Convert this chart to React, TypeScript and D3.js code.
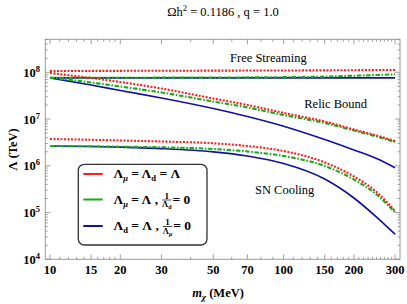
import { useEffect, useRef } from "react";
import * as d3 from "d3";

const WIDTH = 407;
const HEIGHT = 304;
const MARGIN = { top: 39.3, right: 7, bottom: 44.7, left: 45.3 };
const FONT = '"Liberation Serif", "DejaVu Serif", serif';

const RED = "#ff1c1c";
const GREEN = "#1aab1a";
const BLUE = "#12129e";

// dark matter mass (MeV)
const masses = [10, 15, 20, 30, 50, 70, 100, 150, 200, 250, 300];

// free streaming
const fsRed = [1.07e8, 1.07e8, 1.075e8, 1.08e8, 1.085e8, 1.09e8, 1.095e8, 1.1e8, 1.11e8, 1.115e8, 1.12e8];
const fsGreen = [7.62e7, 7.63e7, 7.65e7, 7.68e7, 7.72e7, 7.78e7, 7.87e7, 8.1e7, 8.45e7, 8.75e7, 9.05e7];
const fsBlue = [7.6e7, 7.6e7, 7.6e7, 7.6e7, 7.6e7, 7.6e7, 7.6e7, 7.6e7, 7.6e7, 7.6e7, 7.6e7];

// relic bound
const relicRed = [9.66e7, 7.55e7, 6.2e7, 4.5e7, 2.75e7, 2.0e7, 1.35e7, 8.87e6, 5.98e6, 4.45e6, 3.39e6];
const relicGreen = [7.7e7, 6.05e7, 4.97e7, 3.7e7, 2.37e7, 1.77e7, 1.22e7, 8.23e6, 5.69e6, 4.24e6, 3.23e6];
const relicBlue = [7.6e7, 5.35e7, 4.08e7, 2.82e7, 1.68e7, 1.135e7, 7.03e6, 3.65e6, 2.18e6, 1.43e6, 9.1e5];

// SN cooling
const snRed = [3.74e6, 3.6e6, 3.48e6, 3.31e6, 3.03e6, 2.65e6, 2.07e6, 1.18e6, 5.9e5, 2.75e5, 1.08e5];
const snGreen = [2.65e6, 2.61e6, 2.56e6, 2.49e6, 2.29e6, 2.02e6, 1.62e6, 9.9e5, 5.09e5, 2.43e5, 1.01e5];
const snBlue = [2.65e6, 2.59e6, 2.52e6, 2.34e6, 1.99e6, 1.62e6, 1.12e6, 5.22e5, 2.05e5, 8.0e4, 3.43e4];

const xTickLabels = [10, 15, 20, 30, 50, 70, 100, 150, 200, 300];
const yTickExponents = [4, 5, 6, 7, 8];

// label anchors in data coordinates (mass, Λ)
const annotations = [
  { text: "Free Streaming", m: 59, v: 1.69e8 },
  { text: "Relic Bound", m: 122.6, v: 1.75e7 },
  { text: "SN Cooling", m: 75.4, v: 2.55e5 },
];

type Seg = { t: string; sub?: boolean; italic?: boolean };
const legendItems: { color: string; head: Seg[]; frac?: Seg[] }[] = [
  { color: RED, head: [{ t: "Λ" }, { t: "μ", sub: true, italic: true }, { t: " = Λ" }, { t: "d", sub: true }, { t: " = Λ" }] },
  { color: GREEN, head: [{ t: "Λ" }, { t: "μ", sub: true, italic: true }, { t: " = Λ ," }], frac: [{ t: "Λ" }, { t: "d", sub: true }] },
  { color: BLUE, head: [{ t: "Λ" }, { t: "d", sub: true }, { t: " = Λ ," }], frac: [{ t: "Λ" }, { t: "μ", sub: true, italic: true }] },
];

function writeSegs(text: any, segs: Seg[], subSize: number, shift: number) {
  let prev = 0;
  for (const s of segs) {
    const off = s.sub ? shift : 0;
    const ts = text.append("tspan").attr("dy", off - prev).text(s.t);
    if (s.sub) ts.attr("font-size", subSize);
    if (s.italic) ts.attr("font-style", "italic");
    prev = off;
  }
}

export default function App() {
  const svgRef = useRef<SVGSVGElement>(null);

  useEffect(() => {
    document.body.style.margin = "0";
    if (!svgRef.current) return;
    const svg = d3.select(svgRef.current);
    svg.selectAll("*").remove();
    svg.style("font-family", FONT);

    const x0 = MARGIN.left;
    const x1 = WIDTH - MARGIN.right;
    const y0 = HEIGHT - MARGIN.bottom;
    const y1 = MARGIN.top;

    const x = d3.scaleLog().domain([9.55, 315]).range([x0, x1]);
    const y = d3.scaleLog().domain([1e4, 5.08e8]).range([y0, y1]);

    svg.append("rect").attr("width", WIDTH).attr("height", HEIGHT).attr("fill", "white");

    // title
    const title = svg.append("text")
      .attr("x", 223).attr("y", 15.5)
      .attr("text-anchor", "middle")
      .attr("font-size", 12.5);
    title.append("tspan").text("Ωh");
    title.append("tspan").attr("dy", -5).attr("font-size", 8.5).text("2");
    title.append("tspan").attr("dy", 5).text(" = 0.1186 , q = 1.0");

    // frame
    svg.append("rect")
      .attr("x", x0).attr("y", y1).attr("width", x1 - x0).attr("height", y0 - y1)
      .attr("fill", "none").attr("stroke", "#9a9a9a").attr("stroke-width", 1);

    // x ticks
    const xMinor = [...d3.range(11, 20), ...d3.range(40, 100, 10), ...d3.range(110, 300, 10)]
      .filter((m) => !xTickLabels.includes(m));
    const tickG = svg.append("g").attr("stroke", "#888").attr("stroke-width", 0.8);
    const vTick = (px: number, len: number) => {
      tickG.append("line").attr("x1", px).attr("x2", px).attr("y1", y0).attr("y2", y0 - len);
      tickG.append("line").attr("x1", px).attr("x2", px).attr("y1", y1).attr("y2", y1 + len);
    };
    xMinor.forEach((m) => vTick(x(m), 2.5));
    xTickLabels.forEach((m) => vTick(x(m), 5));

    svg.append("g").selectAll("text").data(xTickLabels).join("text")
      .attr("x", (d) => x(d)).attr("y", 274)
      .attr("text-anchor", "middle")
      .attr("font-size", 12.5).attr("font-weight", "bold")
      .text((d) => String(d));

    // y ticks
    const hTick = (py: number, len: number) => {
      tickG.append("line").attr("y1", py).attr("y2", py).attr("x1", x0).attr("x2", x0 + len);
      tickG.append("line").attr("y1", py).attr("y2", py).attr("x1", x1).attr("x2", x1 - len);
    };
    const [vMin, vMax] = y.domain();
    yTickExponents.forEach((e) => {
      hTick(y(10 ** e), 5);
      d3.range(2, 10).forEach((k) => {
        const v = k * 10 ** e;
        if (v > vMin && v < vMax) hTick(y(v), 2.5);
      });
    });

    yTickExponents.forEach((e) => {
      const t = svg.append("text")
        .attr("x", 40).attr("y", y(10 ** e) + 4.5)
        .attr("text-anchor", "end")
        .attr("font-size", 12.5).attr("font-weight", "bold");
      t.append("tspan").text("10");
      t.append("tspan").attr("dy", -5).attr("font-size", 8.5).text(String(e));
    });

    // axis labels
    svg.append("text")
      .attr("transform", `translate(17,${(y0 + y1) / 2}) rotate(-90)`)
      .attr("text-anchor", "middle")
      .attr("font-size", 12.5).attr("font-weight", "bold")
      .text("Λ (TeV)");

    const xl = svg.append("text")
      .attr("x", 218).attr("y", 297)
      .attr("text-anchor", "middle")
      .attr("font-size", 12.5).attr("font-weight", "bold");
    xl.append("tspan").attr("font-style", "italic").text("m");
    xl.append("tspan").attr("font-style", "italic").attr("font-size", 9).attr("dy", 3).text("χ");
    xl.append("tspan").attr("dy", -3).text(" (MeV)");

    // curves
    svg.append("clipPath").attr("id", "plotclip")
      .append("rect").attr("x", x0).attr("y", y1).attr("width", x1 - x0).attr("height", y0 - y1);
    const plot = svg.append("g").attr("clip-path", "url(#plotclip)");

    const line = d3.line<number>()
      .x((_, i) => x(masses[i]))
      .y((v) => y(v))
      .curve(d3.curveMonotoneX);

    const series = [
      { values: fsBlue, color: BLUE, dash: null, w: 1.7 },
      { values: relicBlue, color: BLUE, dash: null, w: 1.7 },
      { values: snBlue, color: BLUE, dash: null, w: 1.7 },
      { values: fsGreen, color: GREEN, dash: "4.5,1.6,1.6,1.6", w: 2.1 },
      { values: relicGreen, color: GREEN, dash: "4.5,1.6,1.6,1.6", w: 2.1 },
      { values: snGreen, color: GREEN, dash: "4.5,1.6,1.6,1.6", w: 2.1 },
      { values: fsRed, color: RED, dash: "2,1.5", w: 2.1 },
      { values: relicRed, color: RED, dash: "2,1.5", w: 2.1 },
      { values: snRed, color: RED, dash: "2,1.5", w: 2.1 },
    ];
    series.forEach((s) => {
      plot.append("path")
        .attr("d", line(s.values))
        .attr("fill", "none")
        .attr("stroke", s.color)
        .attr("stroke-width", s.w)
        .attr("stroke-dasharray", s.dash);
    });

    // annotations
    annotations.forEach((a) => {
      svg.append("text")
        .attr("x", x(a.m)).attr("y", y(a.v))
        .attr("font-size", 12.5)
        .text(a.text);
    });

    // legend
    const lg = svg.append("g");
    lg.append("rect")
      .attr("x", 78.3).attr("y", 164.3).attr("width", 128.7).attr("height", 80.7)
      .attr("rx", 6).attr("fill", "white").attr("stroke", "#333").attr("stroke-width", 1.3);
    const rowY = [174, 199.5, 226];
    legendItems.forEach((item, i) => {
      const cy = rowY[i];
      lg.append("line")
        .attr("x1", 83.3).attr("x2", 102.7).attr("y1", cy).attr("y2", cy)
        .attr("stroke", item.color).attr("stroke-width", 2);
      const t = lg.append("text")
        .attr("x", 113.5).attr("y", cy + 4)
        .attr("font-size", 13.5).attr("font-weight", "bold");
      writeSegs(t, item.head, 8.5, 3);
      if (item.frac) {
        const fx = 113.5 + (t.node() as SVGTextElement).getComputedTextLength() + 4;
        const den = lg.append("text")
          .attr("x", fx).attr("y", cy + 7.5)
          .attr("font-size", 8.5).attr("font-weight", "bold");
        writeSegs(den, item.frac, 6, 2);
        const fw = (den.node() as SVGTextElement).getComputedTextLength();
        lg.append("text")
          .attr("x", fx + fw / 2).attr("y", cy - 1)
          .attr("text-anchor", "middle")
          .attr("font-size", 9).attr("font-weight", "bold")
          .text("1");
        lg.append("line")
          .attr("x1", fx).attr("x2", fx + fw).attr("y1", cy + 0.5).attr("y2", cy + 0.5)
          .attr("stroke", "black").attr("stroke-width", 0.7);
        lg.append("text")
          .attr("x", fx + fw + 1).attr("y", cy + 4)
          .attr("font-size", 13.5).attr("font-weight", "bold")
          .text(" = 0");
      }
    });
  }, []);

  return <svg ref={svgRef} width={WIDTH} height={HEIGHT} style={{ display: "block" }} />;
}
